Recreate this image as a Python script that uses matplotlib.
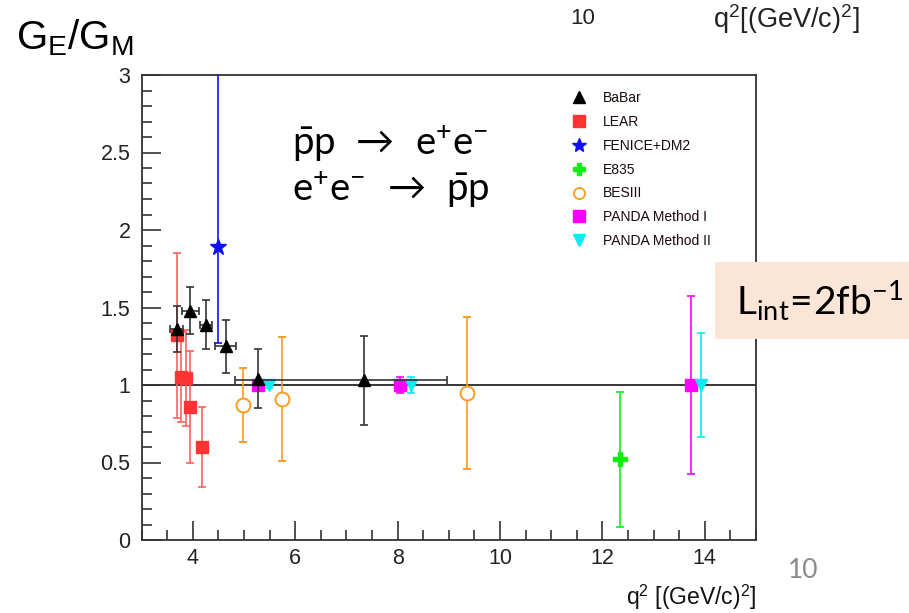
import matplotlib
matplotlib.use("Agg")
import matplotlib.pyplot as plt
from matplotlib.lines import Line2D
from matplotlib.patches import Rectangle
from matplotlib.ticker import MultipleLocator
import numpy as np

plt.rcParams['font.family'] = ['Liberation Sans', 'DejaVu Sans']
plt.rcParams['mathtext.fontset'] = 'custom'
plt.rcParams['mathtext.rm'] = 'Lato'
plt.rcParams['mathtext.sf'] = 'Liberation Sans'
plt.rcParams['mathtext.it'] = 'Lato:italic'

# ---- data ----
babar_x = [3.68, 3.95, 4.25, 4.64, 5.27, 7.35]
babar_y = [1.36, 1.48, 1.39, 1.25, 1.04, 1.03]
babar_yerr = [0.15, 0.15, 0.16, 0.17, 0.19, 0.285]
babar_xerr_lo = [0.12, 0.16, 0.12, 0.21, 0.0, 2.52]
babar_xerr_hi = [0.12, 0.16, 0.12, 0.21, 0.0, 1.62]

lear_x = [3.69, 3.76, 3.86, 3.94, 4.18]
lear_y = [1.32, 1.05, 1.045, 0.86, 0.60]
lear_yerr = [0.53, 0.29, 0.31, 0.36, 0.26]

fenice_x = [4.50]
fenice_y = [1.89]
fenice_yerr_lo = [0.62]
fenice_yerr_hi = [1.5]

e835_x = [12.34]
e835_y = [0.52]
e835_yerr = [0.435]

bes_x = [4.97, 5.75, 9.36]
bes_y = [0.87, 0.91, 0.95]
bes_yerr = [0.24, 0.40, 0.49]

panda1_x = [5.28, 8.05, 13.73]
panda1_y = [1.0, 1.0, 1.0]
panda1_yerr = [0.02, 0.05, 0.576]

panda2_x = [5.49, 8.27, 13.93]
panda2_y = [1.0, 1.0, 1.0]
panda2_yerr = [0.02, 0.05, 0.337]

legend_labels = ["BaBar", "LEAR", "FENICE+DM2", "E835", "BESIII",
                 "PANDA Method I", "PANDA Method II"]

# ---- figure ----
W, H = 909, 613
fig = plt.figure(figsize=(W / 100, H / 100), dpi=100)
ax = fig.add_axes([141.7 / W, 1 - 540 / H, (756 - 141.7) / W, (540 - 75) / H])
ax.set_xlim(3, 15)
ax.set_ylim(0, 3)

ax.axhline(1.0, color='black', lw=1.1, zorder=1)

c_babar = 'black'
c_lear = '#ff3333'
c_fen = '#1010ff'
c_e835 = '#11ee11'
c_bes = '#ff9a22'
c_p1 = '#ff00ff'
c_p2 = '#00f0f0'

ekw = dict(linestyle='none', elinewidth=1.2, capsize=3, capthick=1.2)

ax.errorbar(lear_x, lear_y, yerr=lear_yerr, marker='s', ms=8.5, color=c_lear,
            ecolor='#ff6060', zorder=3, **ekw)
ax.errorbar(fenice_x, fenice_y, yerr=[fenice_yerr_lo, fenice_yerr_hi], marker='*',
            ms=12, color=c_fen, zorder=3, **ekw)
ax.errorbar(babar_x, babar_y, yerr=babar_yerr, xerr=[babar_xerr_lo, babar_xerr_hi],
            marker='^', ms=9, color=c_babar, ecolor='#333333', zorder=4, **ekw)
ax.errorbar(e835_x, e835_y, yerr=e835_yerr, marker='P', ms=10, color=c_e835,
            mec=c_e835, zorder=3, **ekw)
ax.errorbar(bes_x, bes_y, yerr=bes_yerr, marker='o', ms=10, color=c_bes,
            mfc='white', mec=c_bes, mew=1.4, zorder=3, **ekw)
ax.errorbar(panda1_x, panda1_y, yerr=panda1_yerr, marker='s', ms=8.5, color=c_p1,
            zorder=3, **ekw)
ax.errorbar(panda2_x, panda2_y, yerr=panda2_yerr, marker='v', ms=9, color=c_p2,
            zorder=3, **ekw)

# ticks
ax.xaxis.set_major_locator(MultipleLocator(2))
ax.xaxis.set_minor_locator(MultipleLocator(0.5))
ax.yaxis.set_major_locator(MultipleLocator(0.5))
ax.yaxis.set_minor_locator(MultipleLocator(0.1))
ax.tick_params(which='both', direction='in', top=False, right=False,
               color='#333333', labelcolor='#222222')
ax.tick_params(which='major', length=14, width=1.2, labelsize=15.5)
ax.tick_params(which='minor', length=7, width=1.2)
ax.tick_params(axis='y', pad=8)
ax.tick_params(axis='x', pad=6)
ax.yaxis.set_major_formatter(matplotlib.ticker.FuncFormatter(
    lambda v, p: ('%g' % v)))
for s in ax.spines.values():
    s.set_color('#333333')
    s.set_linewidth(1.3)

# legend
colors = [c_babar, c_lear, c_fen, c_e835, c_bes, c_p1, c_p2]
markers = ['^', 's', '*', 'P', 'o', 's', 'v']
handles = []
for lab, c, m in zip(legend_labels, colors, markers):
    kw = dict(marker=m, linestyle='none', color=c, ms=8)
    if m == 'o':
        kw.update(mfc='white', mec=c, mew=1.3)
    if m == '*':
        kw['ms'] = 10
    handles.append(Line2D([], [], **kw))
leg = fig.legend(handles, legend_labels, loc='upper left',
                 bbox_to_anchor=(572 / W, 1 - 91 / H), frameon=False,
                 fontsize=10, handlelength=1.0, handletextpad=1.2,
                 labelspacing=0.71, borderpad=0, borderaxespad=0)
for t in leg.get_texts():
    t.set_color('#1a0a0a')

# reaction text
fig.text(292 / W, 1 - 155 / H, r'$\bar{\mathrm{p}}\mathrm{p}\ \,\rightarrow\ \,\mathrm{e^{+}e^{-}}$',
         fontsize=27.5, ha='left', va='baseline')
fig.text(292 / W, 1 - 201 / H, r'$\mathrm{e^{+}e^{-}}\ \,\rightarrow\ \,\bar{\mathrm{p}}\mathrm{p}$',
         fontsize=27.5, ha='left', va='baseline')

# Lint box
fig.patches.append(Rectangle((715 / W, 1 - 339 / H), (W - 715) / W, 77 / H,
                             transform=fig.transFigure, facecolor='#fbe5d6',
                             edgecolor='none', zorder=5))
fig.text(736 / W, 1 - 315 / H, r'$\mathrm{L_{int}\!=\!2fb^{-1}}$', fontsize=28,
         ha='left', va='baseline', zorder=6)

# title-like texts
fig.text(16 / W, 1 - 50 / H, r'G$_{\mathsf{E}}$/G$_{\mathsf{M}}$', fontsize=29,
         ha='left', va='baseline', color='black')
fig.text(583 / W, 1 - 18 / H, '10', fontsize=16, ha='center', va='center',
         color='#222222')
fig.text(786 / W, 1 - 19 / H, r'q$^{\mathsf{2}}$[(GeV/c)$^{\mathsf{2}}$]', fontsize=19.5,
         ha='center', va='center', color='#222222')

# bottom texts
fig.text(756 / W, 1 - 597 / H, r'q$^{\mathsf{2}}$ [(GeV/c)$^{\mathsf{2}}$]', fontsize=16.5,
         ha='right', va='center', color='#111111')
fig.text(803 / W, 1 - 571 / H, '10', fontsize=19, ha='center', va='center',
         color='#8a8a8a', family='Lato')

fig.savefig('out.png', dpi=100)
